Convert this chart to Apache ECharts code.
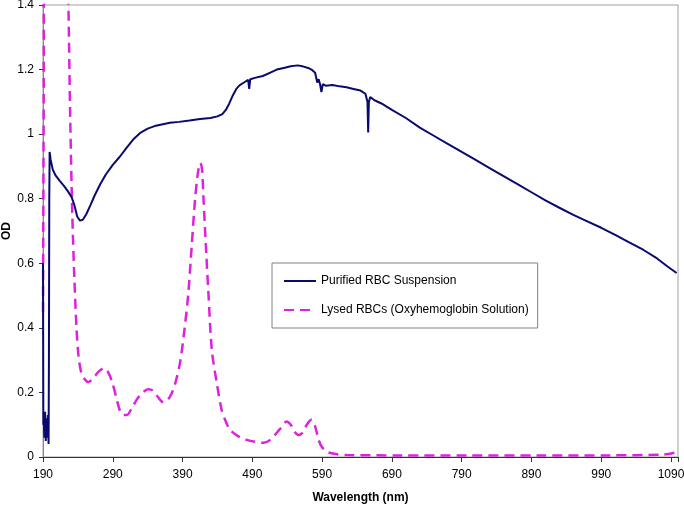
<!DOCTYPE html>
<html>
<head>
<meta charset="utf-8">
<script src="https://cdn.jsdelivr.net/npm/echarts@6/dist/echarts.min.js"></script>
<style>
html,body{margin:0;padding:0;background:#fff;}
#chart{width:684px;height:505px;}
</style>
</head>
<body>
<div id="chart"></div>
<script>
// Purified RBC Suspension
var blueWl = [190,190.5,191,192,193,194,195,196,197,198,198.5,199,199.5,201,204,208,214,220,226,231,235,239,243,247,252,258,264,272,280,290,300,310,320,330,340,350,360,372,385,400,415,430,440,447,452,457,462,467,472,478,484,485.5,487,495,505,515,525,535,545,555,562,570,576,580,583,585,587,589,591,595,605,615,625,635,645,652,655,656,657,659,665,675,690,710,730,750,770,790,810,830,850,870,890,910,930,950,970,990,1010,1030,1050,1070,1085,1098];
var blueOd = [0.60,0.10,0.13,0.06,0.14,0.05,0.12,0.06,0.13,0.04,0.30,0.80,0.945,0.92,0.89,0.872,0.855,0.84,0.822,0.805,0.78,0.745,0.732,0.735,0.752,0.78,0.81,0.845,0.875,0.905,0.93,0.958,0.985,1.005,1.017,1.025,1.03,1.035,1.038,1.042,1.047,1.05,1.055,1.062,1.075,1.095,1.12,1.14,1.152,1.16,1.168,1.14,1.17,1.175,1.18,1.19,1.2,1.205,1.21,1.213,1.21,1.205,1.198,1.19,1.16,1.17,1.155,1.13,1.155,1.15,1.152,1.148,1.145,1.14,1.135,1.125,1.10,1.005,1.10,1.115,1.105,1.095,1.075,1.05,1.02,0.995,0.97,0.945,0.92,0.895,0.87,0.845,0.82,0.795,0.772,0.75,0.73,0.71,0.688,0.665,0.642,0.615,0.59,0.57];
// Lysed RBCs (Oxyhemoglobin Solution)
var pinkWl = [190,191,192,222,226,229,232,235,238,241,245,250,255,262,270,277,284,290,295,300,305,310,317,325,333,341,348,355,362,368,375,381,387,393,398,403,408,412,415.5,418,420,424,427,432,439,446,452,458,470,482,494,506,512,518,525,532,539,545,550,556,562,568,575,580,585,590,597,610,625,700,800,900,1000,1080,1098];
var pinkOd = [0.45,1.1,1.8,1.8,1.45,1.05,0.75,0.55,0.40,0.31,0.26,0.24,0.232,0.245,0.265,0.275,0.26,0.225,0.185,0.145,0.13,0.13,0.15,0.18,0.20,0.21,0.205,0.185,0.17,0.175,0.20,0.24,0.30,0.40,0.50,0.65,0.80,0.88,0.911,0.89,0.80,0.63,0.51,0.33,0.23,0.146,0.11,0.084,0.064,0.053,0.047,0.044,0.048,0.058,0.075,0.093,0.11,0.10,0.08,0.068,0.075,0.10,0.115,0.095,0.053,0.03,0.016,0.009,0.006,0.005,0.005,0.005,0.005,0.008,0.015];
var xTicks = [190,290,390,490,590,690,790,890,990,1090];
var yTicks = [0,0.2,0.4,0.6,0.8,1,1.2,1.4];

function pairs(a,b){var r=[];for(var i=0;i<a.length;i++){r.push([a[i],b[i]]);}return r;}

var font = "'Liberation Sans', Arial, sans-serif";
var chart = echarts.init(document.getElementById('chart'));
chart.setOption({
  animation:false,
  backgroundColor:'#fff',
  textStyle:{fontFamily:font},
  grid:{left:43,right:6,top:5,bottom:48,containLabel:false,outerBoundsMode:'none',show:true,borderColor:'#a0a0a0',borderWidth:1,backgroundColor:'transparent'},
  legend:{
    orient:'vertical',left:272,top:263,
    backgroundColor:'#fff',borderColor:'#808080',borderWidth:1,
    padding:[12,9,12,11],itemGap:17,itemWidth:32,itemHeight:14,
    itemStyle:{opacity:0},
    textStyle:{fontFamily:font,fontSize:12,color:'#000'},
    data:['Purified RBC Suspension','Lysed RBCs (Oxyhemoglobin Solution)']
  },
  xAxis:{
    type:'value',min:190,max:1100,interval:100,
    name:'Wavelength (nm)',nameLocation:'middle',nameGap:35,nameMoveOverlap:false,
    nameTextStyle:{fontFamily:font,fontSize:12,fontWeight:'bold',color:'#000'},
    axisLine:{show:true,lineStyle:{color:'#333',width:1}},
    axisTick:{show:true,length:5,lineStyle:{color:'#333'}},
    axisLabel:{margin:12,fontFamily:font,fontSize:12,color:'#000',
      formatter:function(v){return xTicks.indexOf(v)>=0?String(v):'';}},
    splitLine:{show:false}
  },
  yAxis:{
    type:'value',min:0,max:1.4,interval:0.2,
    name:'OD',nameLocation:'middle',nameGap:30,nameRotate:90,nameMoveOverlap:false,
    nameTextStyle:{fontFamily:font,fontSize:12,fontWeight:'bold',color:'#000'},
    axisLine:{show:true,lineStyle:{color:'#888',width:1}},
    axisTick:{show:true,length:4,lineStyle:{color:'#333'}},
    axisLabel:{margin:9,fontFamily:font,fontSize:12,color:'#000',
      formatter:function(v){var t=Math.round(v*10)/10;return yTicks.indexOf(t)>=0?String(t):'';}},
    splitLine:{show:false}
  },
  series:[
    {name:'Purified RBC Suspension',type:'line',symbol:'none',data:pairs(blueWl,blueOd),
     lineStyle:{color:'#0a0a6e',width:2},itemStyle:{color:'#0a0a6e'},clip:true,z:3},
    {name:'Lysed RBCs (Oxyhemoglobin Solution)',type:'line',symbol:'none',data:pairs(pinkWl,pinkOd),smooth:0.3,
     lineStyle:{color:'#dd22dd',width:2.5,type:[10,6]},itemStyle:{color:'#dd22dd'},clip:true,z:2}
  ]
});
</script>
</body>
</html>
